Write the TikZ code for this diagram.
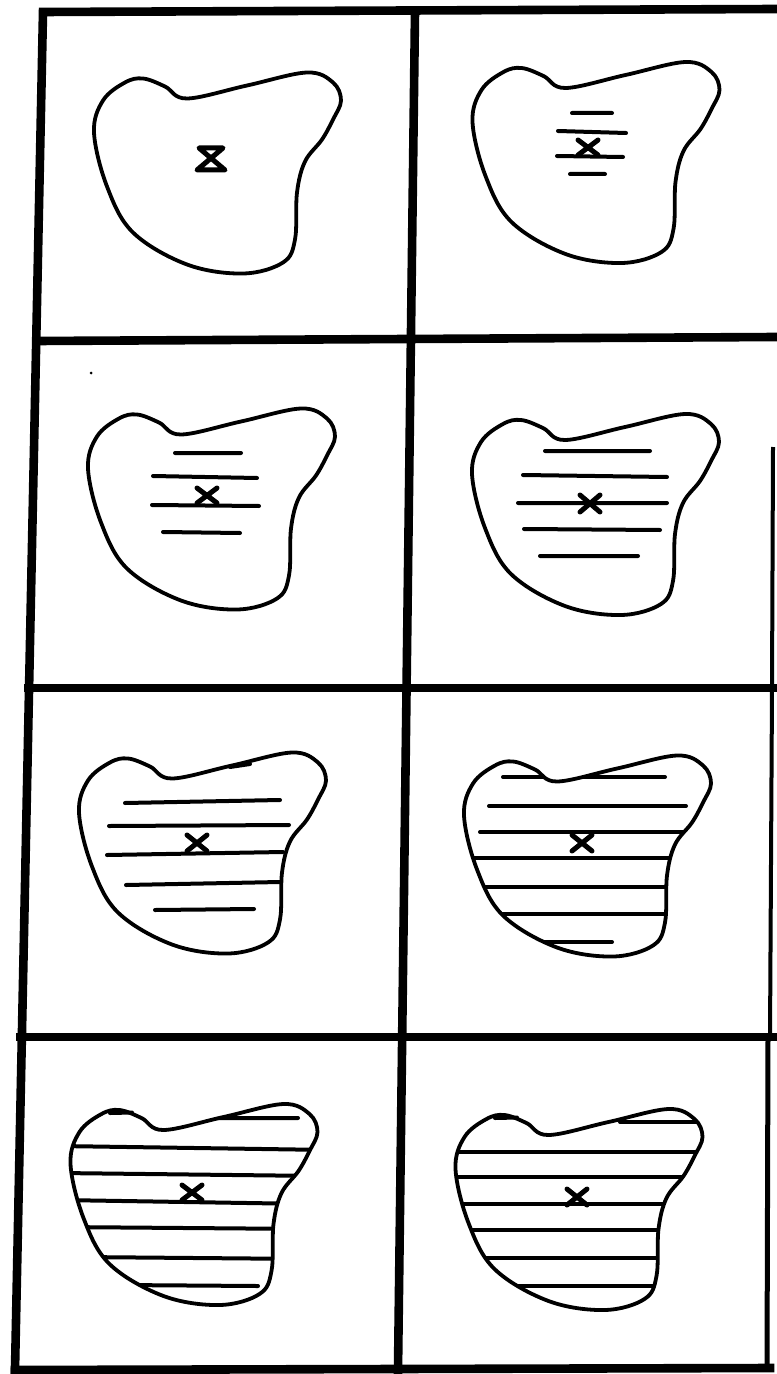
\documentclass[tikz,border=0pt]{standalone}
\begin{document}
\newcommand\blobshape{plot[smooth cycle, tension=0.6] coordinates {(0,0) (60,-13) (120,-26) (146,-16) (154,2) (146,21) (135,41) (118,63) (110,94) (108,141) (96,164) (56,175) (0,166) (-54,134) (-80,88) (-93,34) (-84,2) (-62,-16) (-44,-20) (-22,-12)}}
\begin{tikzpicture}[x=0.5pt,y=-0.5pt,
  gridline/.style={line width=4.3pt, line cap=rect, line join=miter},
  edgeline/.style={line width=2pt},
  blobline/.style={line width=1.9pt, line join=round},
  hatch/.style={line width=2pt, line cap=round},
  xmark/.style={line width=2.5pt, line cap=round, line join=round}]
\useasboundingbox (0,0) rectangle (776,1374);
% frame and grid
\draw[gridline] (15,1370) -- (43,12) -- (776,9);
\draw[gridline] (15,1370) -- (770,1368);
\draw[gridline] (415,12) -- (398,1370);
\draw[gridline] (37,341) -- (776,337);
\draw[gridline] (28,688) -- (776,688);
\draw[gridline] (20,1037) -- (776,1037);
\draw[edgeline] (773,447) -- (772,688) -- (770,1037);
\draw[line width=2.5pt] (768,1037) -- (767,1370);
\fill (91,373) circle (1.5);
% notch positions of the eight blobs
\coordinate (n1) at (187,98.5);
\coordinate (n2) at (565.5,88);
\coordinate (n3) at (181,434.5);
\coordinate (n4) at (565,440);
\coordinate (n5) at (172,778.5);
\coordinate (n6) at (557,781.5);
\coordinate (n7) at (163.5,1130);
\coordinate (n8) at (548.5,1135);
% cell 1
\draw[blobline, shift={(n1)}] \blobshape;
\draw[xmark] (199,148) -- (223,148) -- (197,170) -- (225,170) -- cycle;
% cell 2
\begin{scope}
\clip[shift={(n2)}] \blobshape;
\draw[hatch] (572,113)--(612,113) (558,131)--(626,133) (557,156)--(623,157) (570,174)--(605,174);
\end{scope}
\draw[blobline, shift={(n2)}] \blobshape;
\draw[xmark] (578,140)--(598,155) (598,140)--(578,155);
% cell 3
\begin{scope}
\clip[shift={(n3)}] \blobshape;
\draw[hatch] (175,453)--(241,453) (153,476)--(257,478) (152,505)--(259,506) (163,532)--(240,533);
\end{scope}
\draw[blobline, shift={(n3)}] \blobshape;
\draw[xmark] (197,488)--(217,503) (217,488)--(197,503);
% cell 4
\begin{scope}
\clip[shift={(n4)}] \blobshape;
\draw[hatch] (545,451)--(650,451) (523,475)--(667,477) (518,503)--(667,503) (524,529)--(660,530) (540,556)--(638,556);
\end{scope}
\draw[blobline, shift={(n4)}] \blobshape;
\draw[xmark] (580,495)--(600,512) (600,495)--(580,512);
% cell 5
\begin{scope}
\clip[shift={(n5)}] \blobshape;
\draw[hatch] (125,803)--(280,800) (109,826)--(289,825) (107,855)--(283,852) (126,885)--(280,882) (155,910)--(254,909);
\end{scope}
\draw[blobline, shift={(n5)}] \blobshape;
\draw[hatch] (230,767)--(250,764);
\draw[xmark] (187,835)--(207,851) (207,835)--(187,851);
% cell 6
\begin{scope}
\clip[shift={(n6)}] \blobshape;
\draw[hatch] (503,777)--(665,777) (489,806)--(686,806) (480,832)--(683,832) (465,858)--(690,858) (480,887)--(690,887) (500,914)--(690,914) (540,942)--(612,942);
\end{scope}
\draw[blobline, shift={(n6)}] \blobshape;
\draw[xmark] (572,835)--(592,851) (592,835)--(572,851);
% cell 7
\begin{scope}
\clip[shift={(n7)}] \blobshape;
\draw[hatch] (210,1118)--(298,1118) (60,1146)--(330,1150) (60,1173)--(320,1176) (60,1200)--(310,1204) (60,1227)--(310,1229) (80,1257)--(310,1259) (120,1285)--(258,1286);
\end{scope}
\draw[blobline, shift={(n7)}] \blobshape;
\draw[hatch] (110,1113)--(132,1112.5);
\draw[xmark] (182,1185)--(202,1200) (202,1185)--(182,1200);
% cell 8
\begin{scope}
\clip[shift={(n8)}] \blobshape;
\draw[hatch] (620,1122)--(720,1122) (440,1152)--(720,1152) (440,1177)--(710,1177) (440,1204)--(700,1204) (450,1230)--(700,1230) (470,1258)--(700,1258) (500,1286)--(700,1286);
\end{scope}
\draw[blobline, shift={(n8)}] \blobshape;
\draw[hatch] (495,1118)--(517,1117.5);
\draw[xmark] (567,1189)--(587,1205) (587,1189)--(567,1205);
\end{tikzpicture}
\end{document}
